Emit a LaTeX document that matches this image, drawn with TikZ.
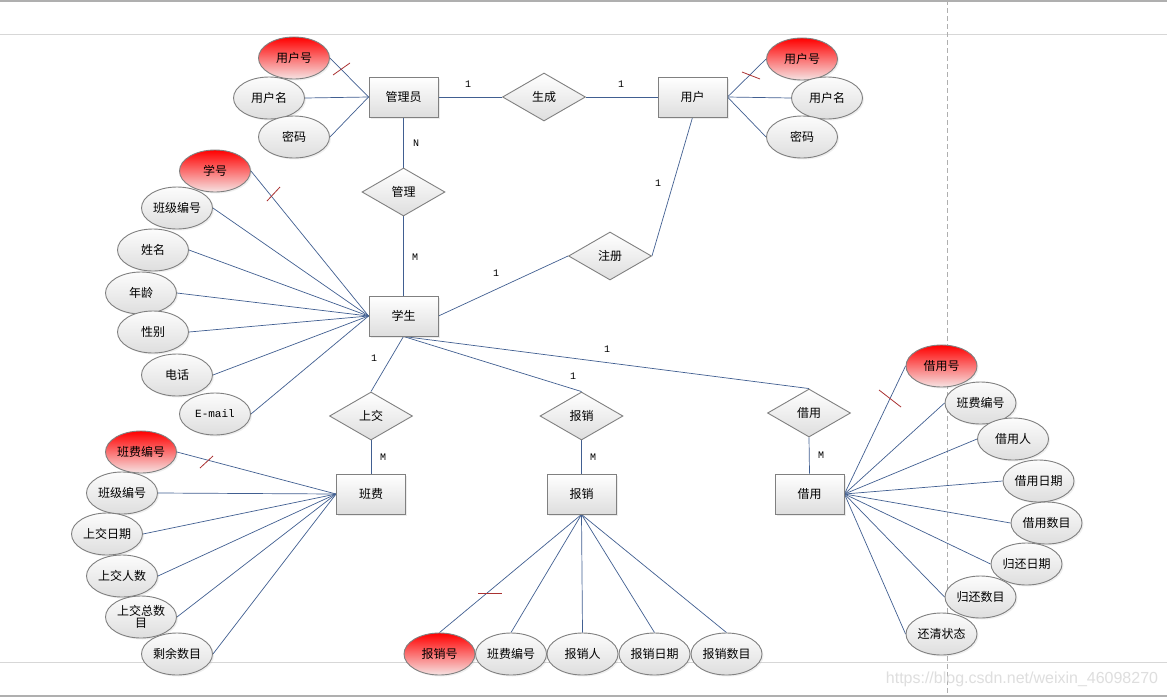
\documentclass[tikz,border=0pt]{standalone}
\usepackage{fontspec}
\setmainfont{Noto Sans CJK SC}
\newfontfamily\cardfont{Liberation Mono}
\newfontfamily\wmfont{Liberation Sans}
\usetikzlibrary{shapes.geometric,shadows}
\definecolor{conn}{RGB}{65,95,145}
\definecolor{bordergray}{RGB}{128,128,128}
\definecolor{shadeA}{RGB}{252,252,252}
\definecolor{shadeB}{RGB}{222,222,222}
\definecolor{keyB}{RGB}{246,228,228}
\definecolor{tickred}{RGB}{170,50,50}
\definecolor{frameline}{RGB}{215,215,215}
\definecolor{framedark}{RGB}{175,175,175}
\definecolor{wmgray}{RGB}{222,222,222}
\pgfdeclarelayer{bg}
\pgfsetlayers{bg,main}
\begin{document}
\begin{tikzpicture}[x=1pt,y=-1pt,
  font=\fontsize{12}{14}\selectfont,
  ent/.style={rectangle, draw=bordergray, line width=0.9pt, top color=white, bottom color=shadeB, minimum width=69pt, minimum height=40pt, inner sep=0pt, drop shadow={opacity=0.15, shadow xshift=1.5pt, shadow yshift=-1.5pt}},
  rel/.style={diamond, draw=bordergray, line width=0.9pt, top color=white, bottom color=shadeB, minimum width=83pt, minimum height=48pt, inner sep=0pt},
  attr/.style={ellipse, draw=bordergray, line width=0.9pt, top color=shadeA, bottom color=shadeB, minimum width=71pt, minimum height=42pt, inner sep=0pt, align=center, drop shadow={opacity=0.12, shadow xshift=1.5pt, shadow yshift=-1.5pt}},
  keyattr/.style={attr, top color=red, bottom color=keyB},
  card/.style={font=\cardfont\fontsize{10}{12}\selectfont, text=black},
  link/.style={draw=conn, line width=0.7pt},
  tickmark/.style={draw=tickred, line width=0.8pt},
]
\useasboundingbox (0,0) rectangle (1167,697);
\begin{pgfonlayer}{bg}
\fill[white] (0,0) rectangle (1167,697);
\draw[framedark, line width=2pt] (0,1) -- (1167,1);
\draw[frameline, line width=1pt] (0,34) -- (1167,34);
\draw[frameline, line width=1pt] (0,662) -- (1167,662);
\draw[framedark, line width=1.5pt] (0,696) -- (1167,696);
\draw[framedark, dash pattern=on 5pt off 3pt, line width=0.8pt] (947,0) -- (947,697);
\end{pgfonlayer}

% entities
\node[ent] (admin) at (403.5,97) {管理员};
\node[ent] (user) at (692.5,97) {用户};
\node[ent] (stu) at (403.5,316) {学生};
\node[ent] (fee) at (371,494) {班费};
\node[ent] (reimb) at (581.5,494) {报销};
\node[ent] (borrow) at (809.5,494) {借用};

% relationships
\node[rel] (gen) at (544,97) {生成};
\node[rel] (reg) at (610,256) {注册};
\node[rel] (mgr) at (403.5,192) {管理};
\node[rel] (pay) at (371,416) {上交};
\node[rel] (rrel) at (581.5,416) {报销};
\node[rel] (brel) at (809,413) {借用};

% admin attributes
\node[keyattr] (a1) at (294,58) {用户号};
\node[attr] (a2) at (269,98) {用户名};
\node[attr] (a3) at (294,137) {密码};
% user attributes
\node[keyattr] (u1) at (802,59) {用户号};
\node[attr] (u2) at (827,98) {用户名};
\node[attr] (u3) at (802,137) {密码};
% student attributes
\node[keyattr] (s1) at (215,171) {学号};
\node[attr] (s2) at (177,208) {班级编号};
\node[attr] (s3) at (153,250) {姓名};
\node[attr] (s4) at (141,293) {年龄};
\node[attr] (s5) at (153,332) {性别};
\node[attr] (s6) at (177,375) {电话};
\node[attr, font=\cardfont\fontsize{11}{13}\selectfont] (s7) at (215,414) {E-mail};
% fee attributes
\node[keyattr] (f1) at (141,452) {班费编号};
\node[attr] (f2) at (122,493) {班级编号};
\node[attr] (f3) at (107,534) {上交日期};
\node[attr] (f4) at (122,576) {上交人数};
\node[attr, font=\fontsize{12}{12.5}\selectfont] (f5) at (141,617) {上交总数\\目};
\node[attr] (f6) at (177,654) {剩余数目};
% reimbursement attributes
\node[keyattr] (r1) at (439.5,654) {报销号};
\node[attr] (r2) at (511,654) {班费编号};
\node[attr] (r3) at (582.5,654) {报销人};
\node[attr] (r4) at (654.5,654) {报销日期};
\node[attr] (r5) at (726.5,654) {报销数目};
% borrow attributes
\node[keyattr] (b1) at (941.5,366) {借用号};
\node[attr] (b2) at (980.5,403) {班费编号};
\node[attr] (b3) at (1013,439) {借用人};
\node[attr] (b4) at (1038.5,481) {借用日期};
\node[attr] (b5) at (1046.5,523) {借用数目};
\node[attr] (b6) at (1026.5,564) {归还日期};
\node[attr] (b7) at (980.5,597) {归还数目};
\node[attr] (b8) at (941.5,634) {还清状态};

% watermark
\node[font=\wmfont\fontsize{16}{18}\selectfont, text=wmgray] (wm) at (1022,679) {https://blog.csdn.net/weixin\_46098270};

\begin{pgfonlayer}{bg}
% relationship connectors
\draw[link] (admin.east) -- (gen.west);
\draw[link] (gen.east) -- (user.west);
\draw[link] (admin.south) -- (mgr.north);
\draw[link] (mgr.south) -- (stu.north);
\draw[link] (user.south) -- (reg.east);
\draw[link] (reg.west) -- (stu.east);
\draw[link] (stu.south) -- (pay.north);
\draw[link] (stu.south) -- (rrel.north);
\draw[link] (stu.south) -- (brel.north);
\draw[link] (pay.south) -- (fee.north);
\draw[link] (rrel.south) -- (reimb.north);
\draw[link] (brel.south) -- (borrow.north);
% attribute connectors
\foreach \a in {a1,a2,a3} \draw[link] (\a.east) -- (admin.west);
\foreach \a in {u1,u2,u3} \draw[link] (user.east) -- (\a.west);
\foreach \a in {s1,s2,s3,s4,s5,s6,s7} \draw[link] (\a.east) -- (stu.west);
\foreach \a in {f1,f2,f3,f4,f5,f6} \draw[link] (\a.east) -- (fee.west);
\foreach \a in {r1,r2,r3,r4,r5} \draw[link] (\a.north) -- (reimb.south);
\foreach \a in {b1,b2,b3,b4,b5,b6,b7,b8} \draw[link] (borrow.east) -- (\a.west);
\end{pgfonlayer}

% key tick marks
\draw[tickmark] (333,75) -- (350,63);
\draw[tickmark] (742,72) -- (760,79);
\draw[tickmark] (267,201) -- (280,187);
\draw[tickmark] (200,468) -- (213,456);
\draw[tickmark] (478,593) -- (502,593);
\draw[tickmark] (879,390) -- (901,407);

% cardinalities
\node[card] (c1) at (468,84) {1};
\node[card] (c2) at (621,84) {1};
\node[card] (c3) at (416,143) {N};
\node[card] (c4) at (415,257) {M};
\node[card] (c5) at (658,183) {1};
\node[card] (c6) at (496,273) {1};
\node[card] (c7) at (374,358) {1};
\node[card] (c8) at (573,376) {1};
\node[card] (c9) at (607,349) {1};
\node[card] (c10) at (383,457) {M};
\node[card] (c11) at (593,457) {M};
\node[card] (c12) at (821,455) {M};
\end{tikzpicture}
\end{document}
